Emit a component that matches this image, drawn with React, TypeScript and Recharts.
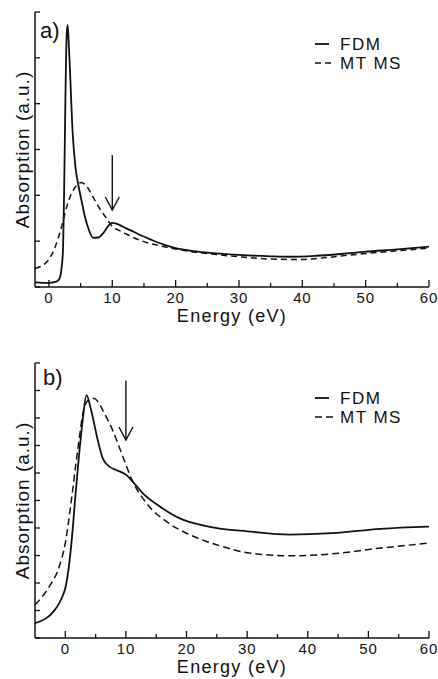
import { Legend, Line, LineChart, ReferenceLine, XAxis, YAxis } from "recharts";

// panel a) energies (eV) and absorption (a.u.)
const FDM_A_E = [-2.2, -1, 0, 1, 1.5, 1.8, 2.0, 2.2, 2.4, 2.6, 2.8, 2.95, 3.1, 3.3, 3.75, 4.2, 4.65, 5.2, 5.7, 6.3, 7.0, 7.8, 8.6, 9.3, 9.9, 10.5, 11.2, 12.2, 13.3, 14.5, 16, 18, 20, 22, 25, 30, 35, 38, 42, 46, 50, 55, 60];
const FDM_A_Y = [0.1, 0.09, 0.09, 0.11, 0.15, 0.24, 0.42, 0.75, 2.1, 4.1, 5.5, 5.72, 5.4, 4.8, 3.35, 2.6, 2.22, 1.85, 1.52, 1.25, 1.07, 1.08, 1.18, 1.32, 1.4, 1.39, 1.35, 1.28, 1.21, 1.13, 1.04, 0.93, 0.85, 0.8, 0.75, 0.7, 0.67, 0.66, 0.68, 0.72, 0.77, 0.82, 0.88];
const MT_A_E = [-2.2, -1, 0, 1, 2, 2.8, 3.6, 4.4, 5.1, 5.8, 6.5, 7.5, 8.3, 9.1, 10, 11, 12.3, 13.5, 15, 17.5, 20, 22, 25, 30, 35, 39, 43, 47, 50, 55, 60];
const MT_A_Y = [0.41, 0.47, 0.6, 0.88, 1.32, 1.75, 2.05, 2.22, 2.28, 2.22, 2.08, 1.83, 1.65, 1.5, 1.32, 1.24, 1.15, 1.07, 0.99, 0.9, 0.83, 0.78, 0.73, 0.66, 0.61, 0.6, 0.63, 0.69, 0.73, 0.79, 0.85];

// panel b)
const FDM_B_E = [-5, -4, -3, -2, -1, -0.5, 0, 0.66, 1.21, 1.6, 2.04, 2.87, 3.5, 4.25, 5.35, 6.18, 7.28, 8.39, 10.05, 11.15, 12.8, 15.6, 18.9, 22.2, 25.5, 30, 37, 44, 52, 60];
const FDM_B_Y = [0.54, 0.62, 0.74, 0.95, 1.27, 1.5, 1.81, 2.72, 3.93, 5.0, 6.11, 7.92, 8.83, 8.29, 7.2, 6.53, 6.23, 6.11, 5.93, 5.68, 5.26, 4.78, 4.35, 4.12, 3.98, 3.88, 3.76, 3.81, 3.97, 4.05];
const MT_B_E = [-5, -4, -2.65, -1, 0, 0.94, 2.04, 3.15, 4.0, 4.8, 5.5, 6.18, 7.8, 9.5, 11.15, 13.4, 16.7, 20, 23.3, 26, 30, 37, 44, 52, 60];
const MT_B_Y = [1.21, 1.45, 1.87, 2.6, 3.45, 4.9, 6.83, 8.4, 8.68, 8.71, 8.55, 8.28, 7.56, 6.59, 5.68, 4.9, 4.23, 3.81, 3.51, 3.32, 3.1, 2.99, 3.06, 3.27, 3.45];

// arrows: [energy, start, tip]
const ARROW_A = [10, 2.88, 1.68];
const ARROW_B = [10, 9.36, 7.2];

const X_TICKS = [0, 5, 10, 15, 20, 25, 30, 35, 40, 45, 50, 55, 60];
const Y_TICKS_A = [0, 1, 2, 3, 4, 5, 6];
const Y_TICKS_B = [0, 1, 2, 3, 4, 5, 6, 7, 8, 9, 10];
const SERIES = ["FDM", "MT MS"];

const INK = "#111";
const FONT = "'Liberation Sans', Arial, sans-serif";

const zip = (e: number[], y: number[]) => e.map((x, i) => ({ e: x, y: y[i] }));

const bottomTick = (p: any) => {
  const v = p.payload.value;
  const major = v % 10 === 0;
  return (
    <g>
      <line x1={p.x} x2={p.x} y1={p.y} y2={p.y - (major ? 7 : 4)} stroke={INK} strokeWidth={1.3} />
      {major && (
        <text x={p.x} y={p.y + 16} textAnchor="middle" fontSize={15} fill={INK} letterSpacing={0.8}>
          {v}
        </text>
      )}
    </g>
  );
};

const topTick = (p: any) => {
  const major = p.payload.value % 10 === 0;
  return <line x1={p.x} x2={p.x} y1={p.y} y2={p.y + (major ? 7 : 4)} stroke={INK} strokeWidth={1.3} />;
};

const leftTick = (p: any) => <line x1={p.x} x2={p.x + 5} y1={p.y} y2={p.y} stroke={INK} strokeWidth={1.3} />;
const rightTick = (p: any) => <line x1={p.x} x2={p.x - 5} y1={p.y} y2={p.y} stroke={INK} strokeWidth={1.3} />;

const Arrow = (p: any) => {
  const { x1, y1, x2, y2 } = p;
  return (
    <g stroke={INK} strokeWidth={1.4} fill="none">
      <line x1={x1} y1={y1} x2={x2} y2={y2} />
      <polyline points={`${x2 - 7},${y2 - 13} ${x2},${y2} ${x2 + 7},${y2 - 13}`} />
    </g>
  );
};

function LegendBox({ dash }: { dash: string }) {
  return (
    <svg width={120} height={46} style={{ display: "block", fontFamily: FONT }}>
      <line x1={3} x2={17} y1={12} y2={12} stroke={INK} strokeWidth={1.8} />
      <text x={28} y={18} fontSize={17} fill={INK} letterSpacing={1.5}>
        {SERIES[0]}
      </text>
      <line x1={3} x2={21} y1={31} y2={31} stroke={INK} strokeWidth={1.5} strokeDasharray={dash} />
      <text x={28} y={37} fontSize={17} fill={INK} letterSpacing={1.5}>
        {SERIES[1]}
      </text>
    </svg>
  );
}

interface PanelProps {
  height: number;
  top: number;
  xMin: number;
  yMax: number;
  yTicks: number[];
  fdm: { e: number; y: number }[];
  mt: { e: number; y: number }[];
  arrow: number[];
  dash: string;
  legendTop: number;
}

function Panel({ height, top, xMin, yMax, yTicks, fdm, mt, arrow, dash, legendTop }: PanelProps) {
  const axisLine = { stroke: INK, strokeWidth: 1.5 };
  return (
    <LineChart width={438} height={height} margin={{ top, right: 9, bottom: 0, left: 9 }}>
      <XAxis
        xAxisId="b"
        type="number"
        dataKey="e"
        domain={[xMin, 60]}
        ticks={X_TICKS}
        interval={0}
        allowDataOverflow
        height={58}
        tickSize={0}
        tickMargin={0}
        tickLine={false}
        axisLine={axisLine}
        tick={bottomTick}
        label={{ value: "Energy (eV)", position: "center", fontSize: 18, fill: INK, letterSpacing: 1.3 }}
      />
      <XAxis
        xAxisId="t"
        orientation="top"
        type="number"
        dataKey="e"
        domain={[xMin, 60]}
        ticks={X_TICKS}
        interval={0}
        allowDataOverflow
        height={0}
        tickSize={0}
        tickMargin={0}
        tickLine={false}
        axisLine={axisLine}
        tick={topTick}
      />
      <YAxis
        yAxisId="l"
        type="number"
        domain={[0, yMax]}
        ticks={yTicks}
        interval={0}
        allowDataOverflow
        width={26}
        tickSize={0}
        tickMargin={0}
        tickLine={false}
        axisLine={axisLine}
        tick={leftTick}
        label={{ value: "Absorption (a.u.)", angle: -90, position: "center", fontSize: 19, fill: INK, letterSpacing: 1 }}
      />
      <YAxis
        yAxisId="r"
        orientation="right"
        type="number"
        domain={[0, yMax]}
        ticks={yTicks}
        interval={0}
        allowDataOverflow
        width={0}
        tickSize={0}
        tickMargin={0}
        tickLine={false}
        axisLine={axisLine}
        tick={rightTick}
      />
      <Line
        xAxisId="b"
        yAxisId="l"
        data={mt}
        dataKey="y"
        name={SERIES[1]}
        type="monotone"
        stroke={INK}
        strokeWidth={1.5}
        strokeDasharray={dash}
        dot={false}
        isAnimationActive={false}
      />
      <Line
        xAxisId="b"
        yAxisId="l"
        data={fdm}
        dataKey="y"
        name={SERIES[0]}
        type="monotone"
        stroke={INK}
        strokeWidth={1.8}
        dot={false}
        isAnimationActive={false}
      />
      <ReferenceLine
        xAxisId="b"
        yAxisId="l"
        segment={[
          { x: arrow[0], y: arrow[1] },
          { x: arrow[0], y: arrow[2] },
        ]}
        shape={Arrow}
      />
      <Legend
        layout="vertical"
        align="center"
        verticalAlign="middle"
        wrapperStyle={{ top: legendTop, left: 312, width: 120 }}
        content={() => <LegendBox dash={dash} />}
      />
    </LineChart>
  );
}

export default function App() {
  return (
    <div
      style={{
        position: "absolute",
        left: 0,
        top: 0,
        width: 438,
        height: 679,
        overflow: "hidden",
        background: "#fff",
        fontFamily: FONT,
      }}
    >
      <div style={{ position: "absolute", left: 0, top: 0 }}>
        <Panel
          height={345}
          top={12}
          xMin={-2.2}
          yMax={6}
          yTicks={Y_TICKS_A}
          fdm={zip(FDM_A_E, FDM_A_Y)}
          mt={zip(MT_A_E, MT_A_Y)}
          arrow={ARROW_A}
          dash="6 4"
          legendTop={32}
        />
      </div>
      <div style={{ position: "absolute", left: 0, top: 343 }}>
        <Panel
          height={353}
          top={20}
          xMin={-5}
          yMax={10}
          yTicks={Y_TICKS_B}
          fdm={zip(FDM_B_E, FDM_B_Y)}
          mt={zip(MT_B_E, MT_B_Y)}
          arrow={ARROW_B}
          dash="7 4"
          legendTop={43}
        />
      </div>
      <svg width={438} height={679} style={{ position: "absolute", left: 0, top: 0, pointerEvents: "none" }}>
        <text x={40} y={38} fontSize={22} fill={INK}>
          a)
        </text>
        <text x={43} y={385} fontSize={22} fill={INK}>
          b)
        </text>
      </svg>
    </div>
  );
}
